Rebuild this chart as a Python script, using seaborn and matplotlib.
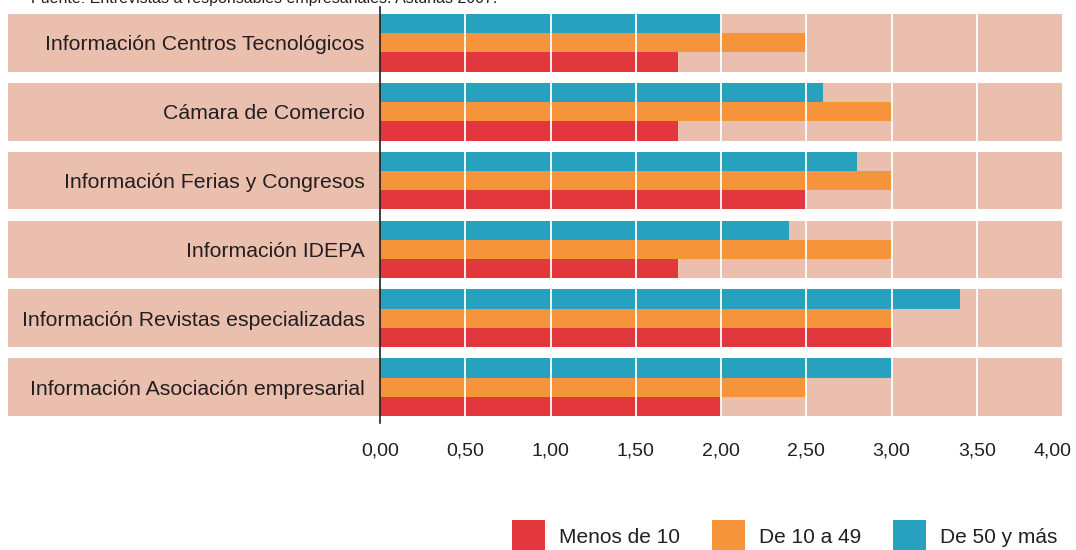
import numpy as np
import pandas as pd
import matplotlib
matplotlib.use('Agg')
import matplotlib.pyplot as plt
import matplotlib.transforms as mtransforms
from matplotlib.patches import Rectangle, Patch
import seaborn as sns

# DATA

categories = [
    'Información Centros Tecnológicos',
    'Cámara de Comercio',
    'Información Ferias y Congresos',
    'Información IDEPA',
    'Información Revistas especializadas',
    'Información Asociación empresarial',
]
series_names = ['Menos de 10', 'De 10 a 49', 'De 50 y más']
menos_10 = [1.75, 1.75, 2.5, 1.75, 3.0, 2.0]
de_10_a_49 = [2.5, 3.0, 3.0, 3.0, 3.0, 2.5]
de_50_mas = [2.0, 2.6, 2.8, 2.4, 3.4, 3.0]
x_ticks = [0, 0.5, 1.0, 1.5, 2.0, 2.5, 3.0, 3.5, 4.0]
x_tick_labels = ['0,00', '0,50', '1,00', '1,50', '2,00', '2,50', '3,00', '3,50', '4,00']
source_text = 'Fuente: Entrevistas a responsables empresariales. Asturias 2007.'

colors = {'Menos de 10': '#E3373E', 'De 10 a 49': '#F5943A', 'De 50 y más': '#27A1BE'}
band_color = '#EBBFAD'
text_color = '#231F20'

df = pd.DataFrame({
    'Categoria': categories * 3,
    'Serie': [series_names[0]] * 6 + [series_names[1]] * 6 + [series_names[2]] * 6,
    'Valor': menos_10 + de_10_a_49 + de_50_mas,
})

# PLOT

sns.set_style('white')
plt.rcParams['font.family'] = ['Liberation Sans', 'DejaVu Sans']

fig = plt.figure(figsize=(10.76, 5.5), dpi=100)
ax = fig.add_axes([380 / 1076, 1 - 423 / 550, (1062 - 380) / 1076, (423 - 7) / 550])

band_h = 0.84
sns.barplot(data=df, y='Categoria', x='Valor', hue='Serie',
            hue_order=['De 50 y más', 'De 10 a 49', 'Menos de 10'],
            order=categories, palette=colors, orient='h', width=band_h,
            saturation=1, errorbar=None, linewidth=0, legend=False, ax=ax, zorder=2)

# pink bands reaching into the label area
trans = mtransforms.blended_transform_factory(ax.transAxes, ax.transData)
left_x = (8 - 380) / (1062 - 380)
for i in range(len(categories)):
    ax.add_patch(Rectangle((left_x, i - band_h / 2), 1 - left_x, band_h,
                           transform=trans, facecolor=band_color, edgecolor='none',
                           clip_on=False, zorder=0))

for xv in x_ticks[1:-1]:
    ax.axvline(xv, color='white', linewidth=1.3, zorder=3)

ax.set_xlim(0, 4)
ax.set_ylim(len(categories) - 0.5 + 0.02, -0.5 - 0.02)
ax.set_xticks(x_ticks)
ax.set_xticklabels(x_tick_labels)
ax.set_xlabel('')
ax.set_ylabel('')
ax.tick_params(axis='x', length=0, pad=14, labelsize=14, labelcolor=text_color)
ax.tick_params(axis='y', length=0, pad=11, labelsize=15.3, labelcolor=text_color)
# last label sits a bit to the left so it stays inside the picture
last = ax.get_xticklabels()[-1]
last.set_transform(last.get_transform() + mtransforms.ScaledTranslation(-9 / 100, 0, fig.dpi_scale_trans))

for s in ['top', 'right', 'bottom']:
    ax.spines[s].set_visible(False)
ax.spines['left'].set_color(text_color)
ax.spines['left'].set_linewidth(1.2)
ax.spines['left'].set_zorder(4)
ax.set_facecolor('none')

fig.text(31 / 1076, 1 + 2 / 550, source_text, fontsize=11.5, color=text_color,
         ha='left', va='center')

handles = [Patch(facecolor=colors[n], edgecolor='none', label=n) for n in series_names]
fig.legend(handles=handles, loc='lower right', bbox_to_anchor=(1068 / 1076, -14 / 550),
           ncol=3, frameon=False, fontsize=15, handlelength=1.6, handleheight=2.1,
           handletextpad=0.67, columnspacing=1.52, borderpad=0, labelcolor=text_color)

fig.savefig('out.png', dpi=100)
